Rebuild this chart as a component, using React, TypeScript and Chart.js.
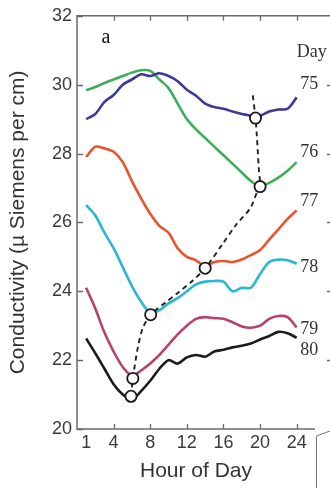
import React, { useEffect, useRef } from "react";
import { Chart, registerables } from "chart.js";

Chart.register(...registerables);

// Hourly conductivity readings, one array per day
const HOURS = [1, 2, 3, 4, 5, 6, 7, 8, 9, 10, 11, 12, 13, 14, 15, 16, 17, 18, 19, 20, 21, 22, 23, 24];
const DAY_75 = [29.0, 29.15, 29.5, 29.7, 30.0, 30.15, 30.3, 30.25, 30.33, 30.25, 30.1, 29.85, 29.68, 29.45, 29.35, 29.3, 29.22, 29.15, 29.1, 29.1, 29.22, 29.28, 29.3, 29.63];
const DAY_76 = [29.84, 29.93, 30.05, 30.15, 30.25, 30.35, 30.42, 30.4, 30.15, 29.9, 29.45, 29.0, 28.7, 28.45, 28.2, 27.95, 27.7, 27.45, 27.2, 27.05, 27.15, 27.3, 27.5, 27.75];
const DAY_77 = [27.9, 28.2, 28.15, 28.05, 27.75, 27.2, 26.7, 26.25, 25.9, 25.7, 25.25, 25.0, 24.9, 24.72, 24.85, 24.88, 24.85, 24.92, 25.05, 25.2, 25.5, 25.8, 26.1, 26.35];
const DAY_78 = [26.5, 26.2, 25.7, 25.25, 24.7, 24.15, 23.7, 23.38, 23.45, 23.65, 23.8, 24.0, 24.2, 24.28, 24.3, 24.28, 24.0, 24.1, 24.1, 24.5, 24.85, 24.92, 24.9, 24.8];
const DAY_79 = [24.1, 23.5, 22.8, 22.25, 21.8, 21.55, 21.7, 21.9, 22.15, 22.45, 22.75, 23.0, 23.2, 23.25, 23.22, 23.2, 23.1, 22.98, 22.94, 23.0, 23.2, 23.28, 23.25, 22.95];
const DAY_80 = [22.63, 22.2, 21.75, 21.3, 21.0, 20.85, 21.1, 21.4, 21.75, 22.0, 21.9, 22.08, 22.15, 22.1, 22.25, 22.3, 22.37, 22.42, 22.48, 22.6, 22.7, 22.82, 22.78, 22.65];

const DAY_NAMES = ["75", "76", "77", "78", "79", "80"];
const DAY_SERIES = [DAY_75, DAY_76, DAY_77, DAY_78, DAY_79, DAY_80];
const DAY_COLORS = ["#3b3a98", "#3fae5a", "#e9532b", "#2ab6d6", "#b8426e", "#1b1b1b"];
// vertical position (in conductivity units) of each day's name at the right edge
const DAY_LABEL_AT = [30.0, 28.05, 26.6, 24.7, 22.9, 22.3];

// Daily minimum marked on each curve, and the dashed track joining them
const MIN_HOUR = [19.5, 20.0, 14.0, 8.05, 6.1, 5.9];
const MIN_VALUE = [29.03, 27.04, 24.67, 23.32, 21.47, 20.95];
const TRACK_HOUR = [5.9, 6.1, 6.65, 7.2, 8.05, 9.6, 11.0, 12.6, 14.0, 15.9, 17.4, 18.9, 19.7, 20.0, 19.85, 19.65, 19.5, 19.2];
const TRACK_VALUE = [20.95, 21.47, 22.37, 22.94, 23.32, 23.66, 23.95, 24.3, 24.67, 25.37, 25.94, 26.4, 26.9, 27.04, 27.6, 28.5, 29.03, 29.7];

const X_TICKS = [1, 4, 8, 12, 16, 20, 24];
const Y_TICKS = [20, 22, 24, 26, 28, 30, 32];
// axis ticks of the neighbouring panel, at the right edge
const NEIGHBOUR_TICKS = [30, 28, 26, 24, 22];

const SANS = "'Liberation Sans', Arial, Helvetica, sans-serif";
const SERIF = "'Liberation Serif', 'Times New Roman', serif";

const decorations = {
  id: "decorations",
  afterDraw(chart: any) {
    const { ctx, chartArea: a } = chart;
    const x = chart.scales.x;
    const y = chart.scales.y;
    ctx.save();

    // panel frame: top rule runs across, left and bottom close the plot
    ctx.strokeStyle = "#6a6a6a";
    ctx.lineWidth = 1.5;
    ctx.beginPath();
    ctx.moveTo(chart.width, a.top);
    ctx.lineTo(a.left, a.top);
    ctx.lineTo(a.left, a.bottom);
    ctx.lineTo(a.right, a.bottom);
    ctx.stroke();

    // inward tick marks
    ctx.lineWidth = 1.3;
    ctx.beginPath();
    X_TICKS.slice(1).forEach((t) => {
      const px = Math.round(x.getPixelForValue(t)) + 0.5;
      ctx.moveTo(px, a.bottom);
      ctx.lineTo(px, a.bottom - 5);
      ctx.moveTo(px, a.top);
      ctx.lineTo(px, a.top + 5);
    });
    Y_TICKS.forEach((t) => {
      const py = Math.round(y.getPixelForValue(t)) + 0.5;
      ctx.moveTo(a.left, py);
      ctx.lineTo(a.left + 6, py);
    });
    NEIGHBOUR_TICKS.forEach((t) => {
      const py = Math.round(y.getPixelForValue(t)) + 0.5;
      ctx.moveTo(a.right + 12, py);
      ctx.lineTo(chart.width, py);
    });
    ctx.stroke();

    // corner of the next panel below
    ctx.lineWidth = 1;
    ctx.strokeStyle = "#777";
    ctx.beginPath();
    ctx.moveTo(a.right + 1.5, chart.height);
    ctx.lineTo(a.right + 1.5, a.bottom + 7);
    ctx.lineTo(chart.width, a.bottom + 2);
    ctx.stroke();

    // panel letter
    ctx.fillStyle = "#111";
    ctx.font = `20px ${SERIF}`;
    ctx.textAlign = "center";
    ctx.textBaseline = "middle";
    ctx.fillText("a", x.getPixelForValue(3.16), y.getPixelForValue(31.37));

    // day names along the right edge
    ctx.fillStyle = "#333";
    ctx.font = `18px ${SERIF}`;
    ctx.textAlign = "left";
    ctx.fillText("Day", x.getPixelForValue(24.0), y.getPixelForValue(30.93));
    DAY_NAMES.forEach((name, i) => {
      ctx.fillText(name, x.getPixelForValue(24.4), y.getPixelForValue(DAY_LABEL_AT[i]));
    });

    ctx.restore();
  },
};

export default function App() {
  const canvasRef = useRef<HTMLCanvasElement | null>(null);

  useEffect(() => {
    document.body.style.margin = "0";
    const canvas = canvasRef.current;
    if (!canvas) return;

    const dayDatasets = DAY_SERIES.map((series, i) => ({
      type: "line" as const,
      label: `Day ${DAY_NAMES[i]}`,
      data: HOURS.map((h, k) => ({ x: h, y: series[k] })),
      borderColor: DAY_COLORS[i],
      borderWidth: 2.6,
      pointRadius: 0,
      tension: 0.3,
      fill: false,
      order: 2,
    }));

    const chart = new Chart(canvas, {
      type: "line",
      data: {
        datasets: [
          {
            type: "scatter" as const,
            label: "Daily minimum",
            data: MIN_HOUR.map((h, i) => ({ x: h, y: MIN_VALUE[i] })),
            pointRadius: 5.6,
            pointBorderWidth: 1.8,
            pointBackgroundColor: "#ffffff",
            pointBorderColor: "#1a1a1a",
            showLine: false,
            order: 0,
          },
          {
            type: "line" as const,
            label: "Minimum track",
            data: TRACK_HOUR.map((h, i) => ({ x: h, y: TRACK_VALUE[i] })),
            borderColor: "#222",
            borderWidth: 1.9,
            borderDash: [5, 4],
            pointRadius: 0,
            tension: 0.3,
            fill: false,
            order: 1,
          },
          ...dayDatasets,
        ],
      },
      options: {
        animation: false,
        responsive: true,
        maintainAspectRatio: false,
        layout: { padding: { top: 13, right: 15, left: 0, bottom: 0 } },
        plugins: {
          legend: { display: false },
          tooltip: { enabled: false },
        },
        scales: {
          x: {
            type: "linear",
            min: 0,
            max: 26,
            grid: { display: false, drawTicks: false },
            border: { display: false },
            afterBuildTicks: (scale: any) => {
              scale.ticks = X_TICKS.map((v) => ({ value: v }));
            },
            afterFit: (scale: any) => {
              scale.height = 59;
            },
            ticks: {
              autoSkip: false,
              maxRotation: 0,
              padding: 3,
              color: "#3a3a3a",
              font: { family: SANS, size: 18 },
              callback: (v: any) => String(v),
            },
            title: {
              display: true,
              text: "Hour of Day",
              color: "#333",
              font: { family: SANS, size: 21 },
              padding: { top: 4, bottom: 4 },
            },
          },
          y: {
            type: "linear",
            min: 20,
            max: 32,
            grid: { display: false, drawTicks: false },
            border: { display: false },
            afterFit: (scale: any) => {
              scale.width = 77;
            },
            ticks: {
              stepSize: 2,
              padding: 5,
              color: "#3a3a3a",
              font: { family: SANS, size: 18 },
            },
            title: {
              display: true,
              text: "Conductivity (µ Siemens per cm)",
              color: "#333",
              font: { family: SANS, size: 21 },
              padding: { top: 6, bottom: 6 },
            },
          },
        },
      },
      plugins: [decorations],
    });

    return () => chart.destroy();
  }, []);

  return (
    <div style={{ position: "absolute", left: 0, top: 0, width: 330, height: 488, background: "#fff" }}>
      <canvas ref={canvasRef} />
    </div>
  );
}
